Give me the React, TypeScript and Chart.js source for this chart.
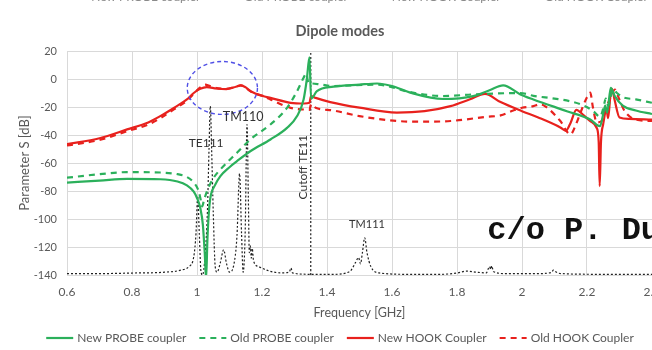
import React, { useEffect, useRef } from "react";
import { Chart, registerables } from "chart.js";

Chart.register(...registerables);

const FONT = "Lato, 'Open Sans', sans-serif";
const TEXT = "#595959";
const GREEN = "#2bb05b";
const RED = "#e8211d";

// ---- data (frequency in GHz, parameter S in dB) ----
const newProbeFreq = [0.6, 0.7, 0.785, 0.887, 0.94, 0.969, 0.99, 1.0, 1.01, 1.018, 1.024, 1.028, 1.032, 1.036, 1.041, 1.055, 1.072, 1.1, 1.123, 1.164, 1.226, 1.277, 1.308, 1.328, 1.338, 1.346, 1.351, 1.369, 1.42, 1.5, 1.554, 1.6, 1.656, 1.758, 1.85, 1.9, 1.942, 1.995, 2.035, 2.138, 2.21, 2.24, 2.25, 2.256, 2.262, 2.273, 2.285, 2.31, 2.35, 2.4];
const newProbeDb = [-74, -72.6, -71.3, -71.6, -73.2, -76, -80.5, -85, -92, -104, -125, -143, -115, -97, -85, -76, -69.4, -63, -58.7, -51.6, -43.2, -34.9, -26.5, -14.6, 0, 15.5, -14, -8.7, -5.5, -4, -3.2, -5, -9.7, -14.3, -12.2, -8, -4.6, -11, -14.6, -23, -29, -33.7, -25, -19, -24, -6.3, -12, -19, -22.5, -25];

const oldProbeFreq = [0.6, 0.7, 0.785, 0.887, 0.94, 0.969, 0.99, 1.005, 1.012, 1.016, 1.021, 1.031, 1.05, 1.072, 1.123, 1.164, 1.226, 1.277, 1.308, 1.328, 1.336, 1.343, 1.354, 1.38, 1.42, 1.554, 1.656, 1.758, 1.85, 1.995, 2.035, 2.1, 2.15, 2.19, 2.22, 2.24, 2.25, 2.258, 2.265, 2.28, 2.292, 2.31, 2.35, 2.4];
const oldProbeDb = [-70.5, -68, -66.5, -66.8, -68, -70, -74, -80, -87, -91, -87, -80, -71, -64.6, -52.7, -43.2, -32.5, -20.6, -8.7, 0.9, 3.9, -2.7, -3.2, -3.9, -5, -4, -9.4, -12.2, -11, -10, -12, -14, -16, -19, -23, -27, -21, -14, -19, -7.5, -10, -13, -14.5, -17];

const newHookFreq = [0.6, 0.7, 0.785, 0.85, 0.887, 0.93, 0.969, 0.99, 1.01, 1.03, 1.06, 1.09, 1.12, 1.135, 1.15, 1.165, 1.205, 1.226, 1.288, 1.33, 1.346, 1.351, 1.365, 1.41, 1.5, 1.615, 1.7, 1.78, 1.84, 1.886, 1.934, 2.0, 2.05, 2.118, 2.135, 2.15, 2.167, 2.19, 2.21, 2.23, 2.236, 2.239, 2.243, 2.25, 2.26, 2.265, 2.272, 2.277, 2.285, 2.3, 2.33, 2.4];
const newHookDb = [-46.5, -42.3, -36, -31, -26.5, -20.5, -14.6, -10, -7, -5.8, -6.8, -7.2, -5.5, -4.6, -6, -8.7, -12.3, -13.5, -17, -17.5, -17, -12.3, -13.5, -16.5, -20.5, -24, -23, -19.4, -14.5, -10.6, -16.5, -23, -27.5, -34.6, -37, -31, -22, -26, -30, -35, -45, -76.5, -45, -32, -22, -28, -12, -7, -15, -27.5, -28.5, -29];

const oldHookFreq = [0.6, 0.7, 0.785, 0.85, 0.887, 0.93, 0.969, 0.99, 1.01, 1.025, 1.04, 1.06, 1.09, 1.12, 1.135, 1.15, 1.17, 1.2, 1.226, 1.288, 1.33, 1.346, 1.351, 1.365, 1.42, 1.5, 1.615, 1.7, 1.78, 1.892, 1.934, 1.973, 2.0, 2.035, 2.056, 2.08, 2.118, 2.149, 2.165, 2.18, 2.2, 2.21, 2.218, 2.23, 2.245, 2.26, 2.275, 2.286, 2.3, 2.316, 2.35, 2.4];
const oldHookDb = [-47.5, -43.5, -37.3, -32.5, -28, -21.5, -15.5, -10.5, -6, -4, -5, -6.5, -7, -5.5, -4.5, -6.5, -9.5, -12, -14.6, -20.6, -21.8, -22, -18, -20.5, -22.5, -26.5, -30, -30.5, -30, -27, -26, -22.5, -20.5, -19.4, -18, -21, -30, -39.6, -33, -24, -13, -9.7, -20, -31, -30, -20, -12, -7.5, -15, -23, -29, -30];

const spectrumFreq = [0.6, 0.7, 0.8, 0.9, 0.95, 0.975, 0.99, 0.997, 1.002, 1.007, 1.012, 1.017, 1.025, 1.032, 1.037, 1.041, 1.045, 1.05, 1.056, 1.062, 1.072, 1.082, 1.091, 1.1, 1.113, 1.123, 1.131, 1.137, 1.142, 1.148, 1.154, 1.158, 1.161, 1.164, 1.167, 1.17, 1.174, 1.19, 1.22, 1.26, 1.284, 1.289, 1.294, 1.35, 1.42, 1.47, 1.488, 1.497, 1.503, 1.509, 1.516, 1.523, 1.535, 1.56, 1.65, 1.75, 1.8, 1.83, 1.86, 1.89, 1.9, 1.904, 1.907, 1.912, 1.95, 2.05, 2.09, 2.097, 2.102, 2.12, 2.25, 2.4];
const spectrumDb = [-139, -139, -138.6, -138, -136.5, -134, -127, -110, -83.7, -110, -137, -140, -126, -95, -50, -19.4, -50, -95, -134, -138, -131, -122, -132, -138, -133, -112, -67.5, -110, -138, -112, -32.5, -85, -124, -119, -128, -121, -130, -134, -137, -138.5, -138, -135, -138.5, -139.5, -139.5, -137.5, -131, -127.5, -132, -124, -113.4, -124, -134, -138.5, -139.5, -139.5, -138.6, -137.2, -138, -138.5, -134, -136, -133.5, -137.5, -139, -139, -138.2, -136.5, -137.5, -139, -139.5, -139.5];

const cutoffFreq = [1.35, 1.35];
const cutoffDb = [-140, 20];

const legendLabels = ["New PROBE coupler", "Old PROBE coupler", "New HOOK Coupler", "Old HOOK Coupler"];
const modeLabels = ["TE111", "TM110", "Cutoff TE11", "TM111"];
const chartTitle = "Dipole modes";
const creditText = "c/o P. Duthil";

const pts = (xs: number[], ys: number[]) => xs.map((x, i) => ({ x, y: ys[i] }));

const legendStyles = [
  { color: GREEN, dash: [] as number[] },
  { color: GREEN, dash: [6, 5] },
  { color: RED, dash: [] as number[] },
  { color: RED, dash: [6, 5] },
];

function drawLegendRow(ctx: CanvasRenderingContext2D, centerX: number, y: number, textColor: string, drawLines: boolean) {
  ctx.save();
  ctx.font = `12px ${FONT}`;
  const sample = 27, gapText = 4, gapItem = 13;
  const widths = legendLabels.map((l) => ctx.measureText(l).width);
  const total = widths.reduce((a, w) => a + sample + gapText + w, 0) + gapItem * (legendLabels.length - 1);
  let x = centerX - total / 2;
  ctx.textBaseline = "middle";
  legendLabels.forEach((label, i) => {
    const st = legendStyles[i];
    if (drawLines) {
      ctx.beginPath();
      ctx.strokeStyle = st.color;
      ctx.lineWidth = 2.2;
      ctx.setLineDash(st.dash);
      ctx.moveTo(x, y);
      ctx.lineTo(x + sample, y);
      ctx.stroke();
      ctx.setLineDash([]);
    }
    ctx.fillStyle = textColor;
    ctx.textAlign = "left";
    ctx.fillText(label, x + sample + gapText, y);
    x += sample + gapText + widths[i] + gapItem;
  });
  ctx.restore();
}

const decorPlugin = {
  id: "decor",
  afterDatasetsDraw(chart: any) {
    const { ctx, scales } = chart;
    const xs = scales.x, ys = scales.y;
    ctx.save();
    // highlight ellipse
    const cx = xs.getPixelForValue(1.078), cy = ys.getPixelForValue(-6.4);
    const rx = xs.getPixelForValue(1.078 + 0.108) - cx;
    const ry = ys.getPixelForValue(-6.4 - 18.9) - cy;
    ctx.beginPath();
    ctx.setLineDash([4, 3]);
    ctx.strokeStyle = "#5050e6";
    ctx.lineWidth = 1.4;
    ctx.ellipse(cx, cy, rx, ry, 0, 0, Math.PI * 2);
    ctx.stroke();
    ctx.setLineDash([]);

    ctx.fillStyle = "#333333";
    ctx.textAlign = "center";
    ctx.textBaseline = "middle";
    ctx.font = `12px ${FONT}`;
    ctx.fillText(modeLabels[0], xs.getPixelForValue(1.028), ys.getPixelForValue(-46));
    ctx.font = `12.5px ${FONT}`;
    ctx.fillText(modeLabels[1], xs.getPixelForValue(1.142), ys.getPixelForValue(-27));
    ctx.font = `11px ${FONT}`;
    ctx.fillText(modeLabels[3], xs.getPixelForValue(1.523), ys.getPixelForValue(-104));
    ctx.save();
    ctx.translate(xs.getPixelForValue(1.325), ys.getPixelForValue(-63));
    ctx.rotate(-Math.PI / 2);
    ctx.font = `12px ${FONT}`;
    ctx.fillText(modeLabels[2], 0, 0);
    ctx.restore();

    ctx.font = `bold 32px 'Liberation Mono', 'DejaVu Sans Mono', monospace`;
    ctx.fillStyle = "#111111";
    ctx.textAlign = "left";
    ctx.textBaseline = "alphabetic";
    ctx.fillText(creditText, xs.getPixelForValue(1.893), ys.getPixelForValue(-114.6));
    ctx.restore();
  },
  afterDraw(chart: any) {
    const { ctx } = chart;
    ctx.save();
    ctx.font = `bold 14.5px ${FONT}`;
    ctx.fillStyle = TEXT;
    ctx.textAlign = "center";
    ctx.textBaseline = "middle";
    ctx.fillText(chartTitle, 340, 31);
    ctx.restore();
    drawLegendRow(ctx, 340, 338, TEXT, true);
    drawLegendRow(ctx, 354, -2.5, "#8a8a8a", false);
  },
};

export default function App() {
  const ref = useRef<HTMLCanvasElement | null>(null);
  useEffect(() => {
    document.body.style.margin = "0";
    const canvas = ref.current;
    if (!canvas) return;
    const line = (label: string, xs: number[], ys: number[], color: string, dash: number[], width: number) => ({
      label,
      data: pts(xs, ys),
      borderColor: color,
      backgroundColor: color,
      borderWidth: width,
      borderDash: dash,
      pointRadius: 0,
      fill: false,
      cubicInterpolationMode: "monotone" as const,
    });
    const chart = new Chart(canvas, {
      type: "line",
      data: {
        datasets: [
          line(legendLabels[0], newProbeFreq, newProbeDb, GREEN, [], 2.2),
          line(legendLabels[1], oldProbeFreq, oldProbeDb, GREEN, [6, 5], 2.2),
          line(legendLabels[2], newHookFreq, newHookDb, RED, [], 2.2),
          line(legendLabels[3], oldHookFreq, oldHookDb, RED, [6, 5], 2.2),
          line("Spectrum", spectrumFreq, spectrumDb, "#222222", [2, 2], 1.2),
          line("Cutoff", cutoffFreq, cutoffDb, "#222222", [2, 2], 1.2),
        ],
      },
      options: {
        responsive: false,
        animation: false,
        devicePixelRatio: 1,
        layout: { padding: { top: 51, right: 48, bottom: 30, left: 0 } },
        plugins: { legend: { display: false }, title: { display: false }, tooltip: { enabled: false } },
        scales: {
          x: {
            type: "linear",
            min: 0.6,
            max: 2.4,
            ticks: {
              stepSize: 0.2,
              padding: 10,
              color: TEXT,
              font: { family: FONT, size: 12 },
              callback: (v: any) => String(Math.round(Number(v) * 10) / 10),
            },
            grid: { color: "#d9d9d9", drawTicks: false },
            border: { color: "#d9d9d9" },
            title: { display: true, text: "Frequency [GHz]", color: TEXT, font: { family: FONT, size: 12.5 }, padding: { top: 4, bottom: 0 } },
            afterFit: (s: any) => { s.height = 45; },
          },
          y: {
            min: -140,
            max: 20,
            ticks: { stepSize: 20, padding: 10, color: TEXT, font: { family: FONT, size: 11 } },
            grid: { color: "#d9d9d9", drawTicks: false },
            border: { color: "#d9d9d9" },
            title: { display: true, text: "Parameter S [dB]", color: TEXT, font: { family: FONT, size: 13 }, padding: { top: 17, bottom: 0 } },
            afterFit: (s: any) => { s.width = 67; },
          },
        },
      },
      plugins: [decorPlugin],
    });
    return () => chart.destroy();
  }, []);
  return (
    <div style={{ position: "relative", width: 652, height: 350, overflow: "hidden", background: "#ffffff" }}>
      <canvas ref={ref} width={700} height={350} style={{ display: "block", width: 700, height: 350 }} />
    </div>
  );
}
